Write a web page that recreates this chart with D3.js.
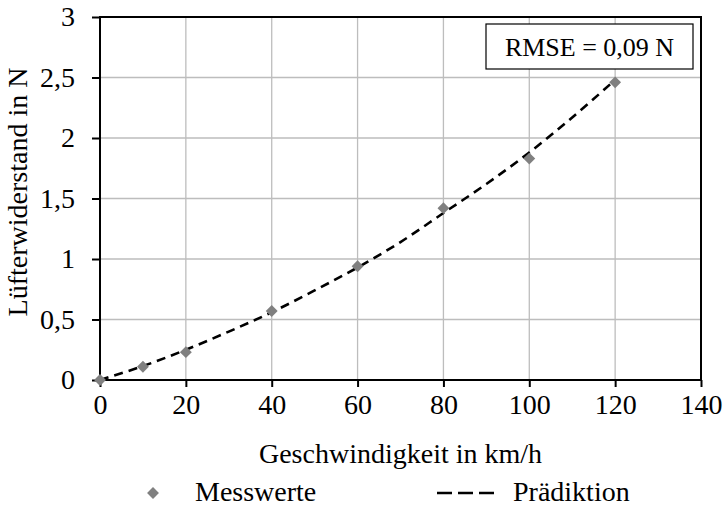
<!DOCTYPE html>
<html>
<head>
<meta charset="utf-8">
<script src="https://cdn.jsdelivr.net/npm/d3@7/dist/d3.min.js"></script>
<style>
  html, body { margin: 0; padding: 0; background: #fff; }
  svg text { font-family: "Liberation Serif", serif; fill: #000; }
</style>
</head>
<body>
<svg id="chart" width="724" height="508"></svg>
<script>
// Measured drag of the fan versus speed
const speeds = [0, 10, 20, 40, 60, 80, 100, 120];
const measured = [0, 0.11, 0.23, 0.57, 0.94, 1.42, 1.83, 2.46];

// Model prediction, sampled every 10 km/h
const predSpeeds = [0, 10, 20, 30, 40, 50, 60, 70, 80, 90, 100, 110, 120];
const predicted = [0, 0.115, 0.25, 0.40, 0.56, 0.74, 0.93, 1.14, 1.38, 1.62, 1.88, 2.17, 2.48];

const xTicks = [0, 20, 40, 60, 80, 100, 120, 140];
const yTicks = [0, 0.5, 1, 1.5, 2, 2.5, 3];

const xLabel = "Geschwindigkeit in km/h";
const yLabel = "Lüfterwiderstand in N";
const rmseText = "RMSE = 0,09 N";
const legendNames = ["Messwerte", "Prädiktion"];

const svg = d3.select("#chart");
const m = { left: 100, right: 23, top: 17, bottom: 128 };
const W = 724, H = 508;
const x = d3.scaleLinear().domain([0, 140]).range([m.left, W - m.right]);
const y = d3.scaleLinear().domain([0, 3]).range([H - m.bottom, m.top]);

const fmt = v => String(v).replace(".", ",");
const fontSize = 28;

// grid
svg.append("g").selectAll("line").data(xTicks.slice(1, -1)).join("line")
  .attr("x1", d => x(d)).attr("x2", d => x(d))
  .attr("y1", y(0)).attr("y2", y(3))
  .attr("stroke", "#bdbdbd").attr("stroke-width", 1.3);
svg.append("g").selectAll("line").data(yTicks.slice(1, -1)).join("line")
  .attr("x1", x(0)).attr("x2", x(140))
  .attr("y1", d => y(d)).attr("y2", d => y(d))
  .attr("stroke", "#bdbdbd").attr("stroke-width", 1.3);

// frame
svg.append("rect")
  .attr("x", x(0)).attr("y", y(3))
  .attr("width", x(140) - x(0)).attr("height", y(0) - y(3))
  .attr("fill", "none").attr("stroke", "#000").attr("stroke-width", 2);

// axes
const xAxis = svg.append("g").attr("transform", `translate(0,${y(0)})`)
  .call(d3.axisBottom(x).tickValues(xTicks).tickSize(7).tickPadding(7).tickFormat(fmt));
const yAxis = svg.append("g").attr("transform", `translate(${x(0)},0)`)
  .call(d3.axisLeft(y).tickValues(yTicks).tickSize(8).tickPadding(17).tickFormat(fmt));
[xAxis, yAxis].forEach(g => {
  g.select(".domain").remove();
  g.selectAll(".tick line").attr("stroke", "#000").attr("stroke-width", 2);
  g.selectAll(".tick text").attr("font-size", fontSize)
    .attr("font-family", "Liberation Serif, serif");
});

// axis titles
svg.append("text").attr("x", x(70)).attr("y", 463)
  .attr("text-anchor", "middle").attr("font-size", fontSize).text(xLabel);
svg.append("text")
  .attr("transform", `translate(27,192) rotate(-90)`)
  .attr("text-anchor", "middle").attr("font-size", fontSize).text(yLabel);

// prediction curve
const line = d3.line().x((d, i) => x(predSpeeds[i])).y(d => y(d)).curve(d3.curveCatmullRom);
svg.append("path").datum(predicted).attr("d", line)
  .attr("fill", "none").attr("stroke", "#000").attr("stroke-width", 2.6)
  .attr("stroke-dasharray", "9,6");

// measured points
const diamond = d3.symbol().type(d3.symbolDiamond2).size(90);
svg.append("g").selectAll("path").data(measured).join("path")
  .attr("transform", (d, i) => `translate(${x(speeds[i])},${y(d)})`)
  .attr("d", diamond).attr("fill", "#808080");

// RMSE box
svg.append("rect").attr("x", 486).attr("y", 24).attr("width", 207).attr("height", 45)
  .attr("fill", "#fff").attr("stroke", "#000").attr("stroke-width", 1.2);
svg.append("text").attr("x", 589.5).attr("y", 56).attr("text-anchor", "middle")
  .attr("font-size", 26).text(rmseText);

// legend
const ly = 493;
svg.append("path").attr("transform", `translate(153,${ly})`)
  .attr("d", diamond).attr("fill", "#808080");
svg.append("text").attr("x", 195).attr("y", ly + 8).attr("font-size", fontSize).text(legendNames[0]);
svg.append("line").attr("x1", 437).attr("x2", 494).attr("y1", ly).attr("y2", ly)
  .attr("stroke", "#000").attr("stroke-width", 2.6).attr("stroke-dasharray", "15,6");
svg.append("text").attr("x", 513).attr("y", ly + 8).attr("font-size", fontSize).text(legendNames[1]);
</script>
</body>
</html>
